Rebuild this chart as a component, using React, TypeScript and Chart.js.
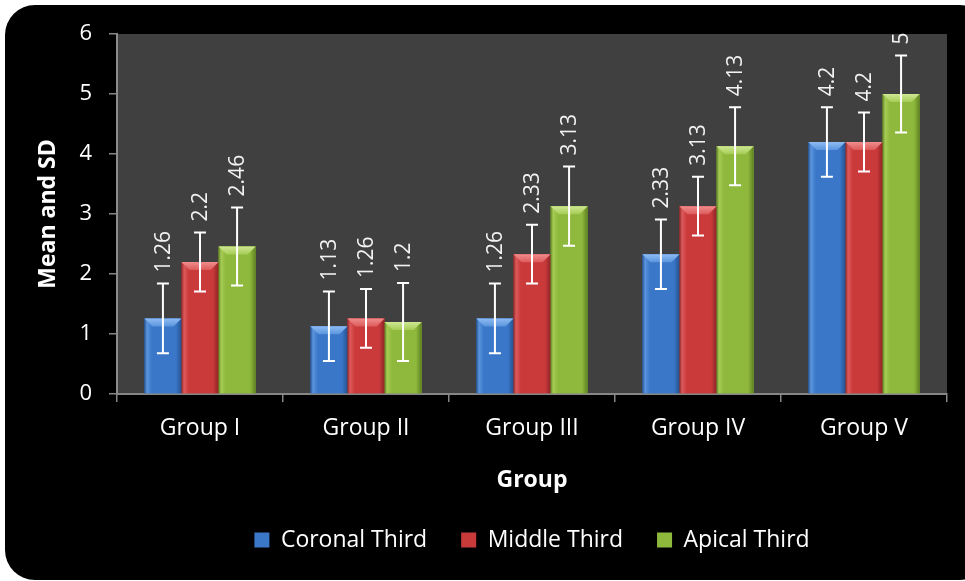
import React, { useEffect, useRef } from "react";
import { Chart, registerables } from "chart.js";

Chart.register(...registerables);

const categories = ["Group I", "Group II", "Group III", "Group IV", "Group V"];
const seriesNames = ["Coronal Third", "Middle Third", "Apical Third"];
const coronal = [1.26, 1.13, 1.26, 2.33, 4.2];
const middle = [2.2, 1.26, 2.33, 3.13, 4.2];
const apical = [2.46, 1.2, 3.13, 4.13, 5];
const coronalSD = [0.58, 0.58, 0.58, 0.58, 0.58];
const middleSD = [0.49, 0.49, 0.49, 0.49, 0.49];
const apicalSD = [0.65, 0.65, 0.66, 0.65, 0.64];
const yMin = 0;
const yMax = 6;
const yStep = 1;

const FONT = "'Open Sans', 'DejaVu Sans', sans-serif";

const palettes = [
  { base: "#3a77c9", light: "#5c95de", dark: "#24528f", top: "#8dbcf2" },
  { base: "#cb3a3b", light: "#dd5b5c", dark: "#8e2526", top: "#f08d8d" },
  { base: "#8eb93c", light: "#a6cc55", dark: "#5f8222", top: "#cfe894" },
];

const sdSeries = [coronalSD, middleSD, apicalSD];

const plotBg = {
  id: "plotBg",
  beforeDraw(chart: any) {
    const { ctx, chartArea } = chart;
    ctx.save();
    ctx.fillStyle = "#404040";
    ctx.fillRect(chartArea.left, chartArea.top, chartArea.right - chartArea.left, chartArea.bottom - chartArea.top);
    ctx.restore();
  },
};

const bevelAndErrors = {
  id: "bevelAndErrors",
  afterDatasetsDraw(chart: any) {
    const { ctx } = chart;
    const yScale = chart.scales.y;
    chart.data.datasets.forEach((ds: any, di: number) => {
      const meta = chart.getDatasetMeta(di);
      const pal = palettes[di];
      meta.data.forEach((bar: any) => {
        const { x, y, base, width } = bar.getProps(["x", "y", "base", "width"], true);
        const L = x - width / 2;
        const R = x + width / 2;
        const T = y;
        const B = base;
        ctx.save();
        const g = ctx.createLinearGradient(L, 0, R, 0);
        g.addColorStop(0, pal.dark);
        g.addColorStop(0.07, pal.light);
        g.addColorStop(0.2, pal.base);
        g.addColorStop(0.85, pal.base);
        g.addColorStop(1, pal.dark);
        ctx.fillStyle = g;
        ctx.fillRect(L, T, R - L, B - T);
        const b = Math.min(8, (B - T) / 2);
        const vg = ctx.createLinearGradient(0, T, 0, T + b);
        vg.addColorStop(0, pal.top);
        vg.addColorStop(1, pal.light);
        ctx.fillStyle = vg;
        ctx.beginPath();
        ctx.moveTo(L, T);
        ctx.lineTo(R, T);
        ctx.lineTo(R - b, T + b);
        ctx.lineTo(L + b, T + b);
        ctx.closePath();
        ctx.fill();
        ctx.restore();
      });
    });
    chart.data.datasets.forEach((ds: any, di: number) => {
      const meta = chart.getDatasetMeta(di);
      meta.data.forEach((bar: any, j: number) => {
        const v = ds.data[j];
        const sd = sdSeries[di][j];
        const x = bar.x;
        const yTop = yScale.getPixelForValue(v + sd);
        const yBot = yScale.getPixelForValue(v - sd);
        ctx.save();
        ctx.strokeStyle = "#ffffff";
        ctx.lineWidth = 2;
        ctx.beginPath();
        ctx.moveTo(x, yTop);
        ctx.lineTo(x, yBot);
        ctx.moveTo(x - 6, yTop);
        ctx.lineTo(x + 6, yTop);
        ctx.moveTo(x - 6, yBot);
        ctx.lineTo(x + 6, yBot);
        ctx.stroke();
        ctx.translate(x, yTop - 11);
        ctx.rotate(-Math.PI / 2);
        ctx.fillStyle = "#f2f2f2";
        ctx.font = `21px ${FONT}`;
        ctx.textAlign = "left";
        ctx.textBaseline = "middle";
        ctx.fillText(String(v), 0, 1);
        ctx.restore();
      });
    });
  },
};

export default function App() {
  const ref = useRef<HTMLCanvasElement | null>(null);
  useEffect(() => {
    if (!ref.current) return;
    const values = [coronal, middle, apical];
    const chart = new Chart(ref.current, {
      type: "bar",
      data: {
        labels: categories,
        datasets: seriesNames.map((name, i) => ({
          label: name,
          data: values[i],
          backgroundColor: palettes[i].base,
          borderWidth: 0,
          categoryPercentage: 0.67,
          barPercentage: 1,
        })),
      },
      options: {
        responsive: false,
        animation: false,
        devicePixelRatio: 1,
        layout: { padding: { left: 0, right: 18, top: 34, bottom: 19.5 } },
        plugins: {
          legend: {
            position: "bottom",
            fullSize: false,
            labels: {
              color: "#ffffff",
              font: { family: FONT, size: 23 },
              boxWidth: 15,
              boxHeight: 15,
              padding: 34,
            },
          },
          tooltip: { enabled: false },
        },
        scales: {
          x: {
            grid: {
              display: true,
              drawOnChartArea: false,
              drawTicks: true,
              tickLength: 8,
              color: "#868686",
              lineWidth: 1.5,
              offset: true,
            },
            border: { display: true, color: "#868686", width: 2 },
            ticks: { color: "#ffffff", font: { family: FONT, size: 23 }, padding: 13 },
            title: {
              display: true,
              text: "Group",
              color: "#ffffff",
              font: { family: FONT, size: 23, weight: "bold" },
              padding: { top: 0, bottom: 0 },
            },
            afterFit: (s: any) => {
              s.height = 100.5;
            },
          },
          y: {
            min: yMin,
            max: yMax,
            ticks: { stepSize: yStep, color: "#ffffff", font: { family: FONT, size: 22 }, padding: 17 },
            grid: {
              display: true,
              drawOnChartArea: false,
              drawTicks: true,
              tickLength: 8,
              color: "#868686",
              lineWidth: 1.5,
            },
            border: { display: true, color: "#8c8c8c", width: 2 },
            title: {
              display: true,
              text: "Mean and SD",
              color: "#ffffff",
              font: { family: FONT, size: 23, weight: "bold" },
              padding: { top: 35, bottom: 0 },
            },
            afterFit: (s: any) => {
              s.width = 117;
            },
          },
        },
      },
      plugins: [plotBg, bevelAndErrors],
    });
    return () => chart.destroy();
  }, []);

  return (
    <div style={{ position: "fixed", left: 0, top: 0, width: 965, height: 581, background: "#ffffff", overflow: "hidden" }}>
      <div
        style={{
          position: "absolute",
          left: 5,
          top: 5,
          width: 985,
          height: 575,
          background: "#000000",
          borderRadius: 30,
        }}
      />
      <canvas ref={ref} width={965} height={581} style={{ position: "absolute", left: 0, top: 0, width: 965, height: 581 }} />
    </div>
  );
}
